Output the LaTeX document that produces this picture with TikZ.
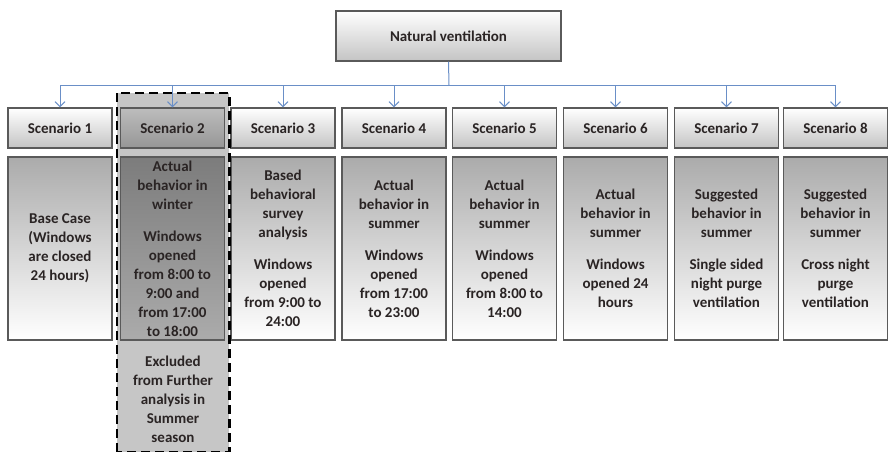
\documentclass[tikz,border=0pt]{standalone}
\usepackage{fontspec}
\setmainfont{Carlito}
\usetikzlibrary{arrows.meta}
\definecolor{txt}{HTML}{2A2424}
\definecolor{bord}{HTML}{5A5A5A}
\definecolor{arrc}{HTML}{6A8FC7}
\definecolor{bodytop}{HTML}{ABABAB}
\definecolor{hdbot}{HTML}{C4C4C4}
\definecolor{dtop}{HTML}{7C7C7C}
\definecolor{dbot}{HTML}{ABABAB}
\definecolor{htop2}{HTML}{BDBDBD}
\definecolor{hbot2}{HTML}{969696}
\definecolor{exfill}{HTML}{C6C6C6}
\tikzset{
  lbl/.style={font=\bfseries\fontsize{15pt}{19pt}\selectfont, text=txt, align=center},
  hdbox/.style={lbl, draw=bord, line width=1.2pt, minimum width=104pt, minimum height=40pt, inner sep=0pt, top color=white, bottom color=hdbot},
  hdbox2/.style={hdbox, top color=htop2, bottom color=hbot2},
  bodybox/.style={lbl, draw=bord, line width=1.2pt, minimum width=104pt, minimum height=183pt, inner sep=0pt, top color=bodytop, bottom color=white},
  bodybox2/.style={bodybox, top color=dtop, bottom color=dbot},
  topbox/.style={lbl, draw=bord, line width=1.2pt, minimum width=225pt, minimum height=50pt, inner sep=0pt, top color=white, bottom color=hdbot},
  arr/.style={draw=arrc, line width=1pt, -{Straight Barb[length=5pt,width=10pt]}},
  dashbox/.style={draw=black, line width=2.6pt, dash pattern=on 9pt off 5pt},
}
\begin{document}
\begin{tikzpicture}[x=1pt,y=1pt]
\useasboundingbox (0,0) rectangle (889,451);
% excluded region
\node[minimum width=112pt, minimum height=359pt, inner sep=0pt, fill=exfill] (ex) at (173,178.5) {};
% top box
\node[topbox] (nv) at (448.5,415) {Natural ventilation};
\coordinate (hub) at (449,366);
% headers
\node[hdbox]  (s1) at (60,323)    {Scenario 1};
\node[hdbox2] (s2) at (172.5,323) {Scenario 2};
\node[hdbox]  (s3) at (283,323)   {Scenario 3};
\node[hdbox]  (s4) at (394,323)   {Scenario 4};
\node[hdbox]  (s5) at (504.5,323) {Scenario 5};
\node[hdbox]  (s6) at (615.5,323) {Scenario 6};
\node[hdbox]  (s7) at (726.5,323) {Scenario 7};
\node[hdbox]  (s8) at (835.5,323) {Scenario 8};
% bodies
\node[bodybox]  (b1) at (60,202.5)    {Base Case\\(Windows\\are closed\\24 hours)};
\node[bodybox2] (b2) at (172.5,202.5) {Actual\\behavior in\\winter\\[13pt]Windows\\opened\\from 8:00 to\\9:00 and\\from 17:00\\to 18:00};
\node[bodybox]  (b3) at (283,202.5)   {Based\\behavioral\\survey\\analysis\\[13pt]Windows\\opened\\from 9:00 to\\24:00};
\node[bodybox]  (b4) at (394,202.5)   {Actual\\behavior in\\summer\\[13pt]Windows\\opened\\from 17:00\\to 23:00};
\node[bodybox]  (b5) at (504.5,202.5) {Actual\\behavior in\\summer\\[13pt]Windows\\opened\\from 8:00 to\\14:00};
\node[bodybox]  (b6) at (615.5,202.5) {Actual\\behavior in\\summer\\[13pt]Windows\\opened 24\\hours};
\node[bodybox]  (b7) at (726.5,202.5) {Suggested\\behavior in\\summer\\[13pt]Single sided\\night purge\\ventilation};
\node[bodybox]  (b8) at (835.5,202.5) {Suggested\\behavior in\\summer\\[13pt]Cross night\\purge\\ventilation};
% excluded text
\node[lbl] (extxt) at (173,52) {Excluded\\from Further\\analysis in\\Summer\\season};
% dashed border
\draw[dashbox] (ex.south west) rectangle (ex.north east);
% connectors
\draw[draw=arrc, line width=1pt] (nv.south) -- (hub);
\foreach \s in {s1,s2,s3,s4,s5,s6,s7,s8}{
  \draw[arr] (hub) -| (\s.north);
}
\end{tikzpicture}
\end{document}
